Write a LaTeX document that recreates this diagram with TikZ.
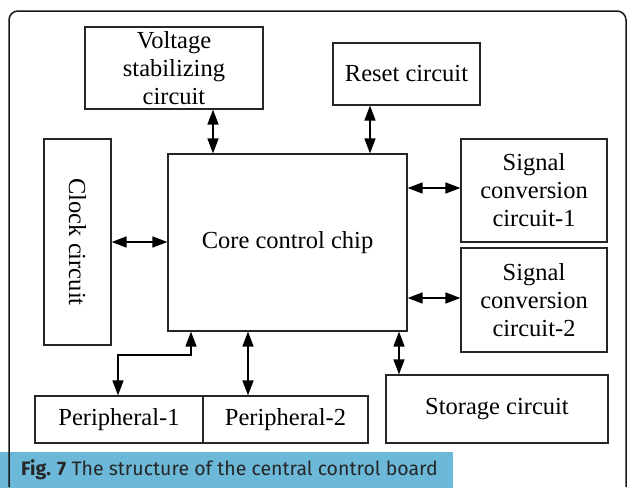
\documentclass[tikz,border=0pt]{standalone}
\usepackage{fontspec}
\setmainfont{Liberation Serif}
\newfontfamily\capfont{Fira Sans}
\usetikzlibrary{arrows.meta}
\definecolor{capblue}{RGB}{108,184,216}
\begin{document}
\begin{tikzpicture}[x=1pt,y=-1pt,
  box/.style={draw=black!85,line width=1.2pt,align=center,inner sep=2pt,font=\fontsize{24.5}{28}\selectfont},
  arr/.style={line width=1.5pt,{Triangle[length=15pt,width=11pt]}-{Triangle[length=15pt,width=11pt]}}]
\useasboundingbox (0,0) rectangle (627,488);
\fill[capblue] (0,452) rectangle (453,488);
\node[anchor=base west,inner sep=0pt,font=\capfont\fontsize{19.5}{22}\selectfont,text=black!85] (cap) at (21,475) {\textbf{Fig. 7} The structure of the central control board};
\draw[line width=1.5pt,black!90,rounded corners=9pt] (9,487) -- (9,11) -- (626,11) -- (626,487);
\node[box,minimum width=178pt,minimum height=82pt] (volt) at (174,68) {Voltage\\stabilizing\\circuit};
\node[box,minimum width=147pt,minimum height=62pt] (reset) at (406.5,74) {Reset circuit};
\node[box,minimum width=67pt,minimum height=206pt] (clock) at (77.5,242) {};
\node[font=\fontsize{24.5}{28}\selectfont,rotate=-90] (clocktxt) at (clock.center) {Clock circuit};
\node[box,minimum width=239pt,minimum height=177pt] (core) at (287.5,242.5) {Core control chip};
\node[box,minimum width=146pt,minimum height=103pt] (sig1) at (534,190.5) {Signal\\conversion\\circuit-1};
\node[box,minimum width=146pt,minimum height=104pt] (sig2) at (534,300) {Signal\\conversion\\circuit-2};
\node[box,minimum width=168pt,minimum height=47pt] (p1) at (119,419.5) {Peripheral-1};
\node[box,minimum width=165pt,minimum height=47pt] (p2) at (285.5,419.5) {Peripheral-2};
\node[box,minimum width=222pt,minimum height=68pt] (stor) at (497,409) {Storage circuit};
\coordinate (xv) at (213,0);
\coordinate (xr) at (370,0);
\coordinate (xs) at (399,0);
\coordinate (xp2) at (248,0);
\coordinate (xe) at (191,0);
\coordinate (xp1) at (118,0);
\coordinate (ys1) at (0,188);
\coordinate (ys2) at (0,298);
\coordinate (yel) at (0,355);
\draw[arr] (volt.south -| xv) -- (core.north -| xv);
\draw[arr] (reset.south -| xr) -- (core.north -| xr);
\draw[arr] (clock.east) -- (clock.east -| core.west);
\draw[arr] (core.east |- ys1) -- (sig1.west |- ys1);
\draw[arr] (core.east |- ys2) -- (sig2.west |- ys2);
\draw[arr] (core.south -| xs) -- (stor.north -| xs);
\draw[arr] (core.south -| xp2) -- (p2.north -| xp2);
\draw[arr] (core.south -| xe) -- (xe |- yel) -- (xp1 |- yel) -- (p1.north -| xp1);
\end{tikzpicture}
\end{document}
